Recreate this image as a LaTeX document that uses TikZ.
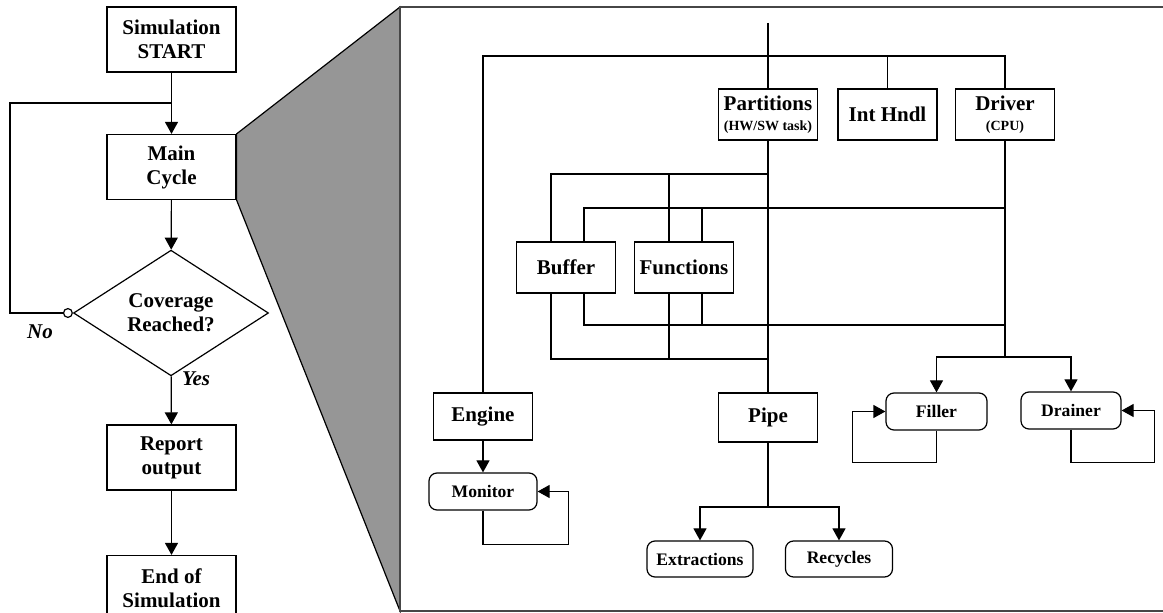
\documentclass[tikz,border=0pt]{standalone}
\usepackage{fontspec}
\setmainfont{Liberation Serif}
\usetikzlibrary{arrows.meta,shapes.geometric}

\definecolor{zoomgray}{RGB}{150,150,150}
\definecolor{framegray}{RGB}{70,70,70}

\tikzset{
  blk/.style={draw, line width=0.6pt, inner sep=0pt, align=center,
    font=\bfseries\fontsize{10.5}{12}\selectfont},
  bigblk/.style={blk, minimum width=64.5pt, minimum height=32.5pt},
  smblk/.style={blk, minimum width=49.5pt, minimum height=25.5pt},
  rblk/.style={blk, rounded corners=4pt, minimum height=18.5pt,
    font=\bfseries\fontsize{8.8}{10}\selectfont},
  arr/.style={-{Triangle[length=6pt,width=6.5pt]}},
  lbl/.style={font=\bfseries\itshape\fontsize{10.5}{12}\selectfont, inner sep=0pt}
}
\newcommand{\subtxt}[1]{{\fontsize{7}{8}\selectfont #1}}

\begin{document}
\begin{tikzpicture}[x=0.5pt, y=-0.5pt, line width=0.6pt]
    \useasboundingbox (0,0) rectangle (1163,613);

    % Flow of the simulation
    \node[bigblk] (start) at (171.5,39.5) {Simulation\\START};
    \node[bigblk] (main) at (171.5,167) {Main\\Cycle};
    \node[blk, shape=diamond, minimum width=97.5pt, minimum height=48pt] (cov) at (171,313) {Coverage\\Reached?};
    \node[bigblk] (rep) at (171.5,457.5) {Report\\output};
    \node[bigblk] (fin) at (171.5,588) {End of\\Simulation};

    \coordinate (lloop) at (0,103);
    \draw[arr] (start) -- (main);
    \draw[arr] (main) -- (cov);
    \draw[arr] (cov) -- (rep);
    \draw[arr] (rep) -- (fin);
    \draw[{Circle[open,length=5pt,width=5pt]}-] (cov.west) -- ++(-63,0) |- (lloop -| start.south);
    \node[lbl] (no) at (40,332) {No};
    \node[lbl] (yes) at (196,379) {Yes};

    % Zoom into the main cycle
    \coordinate (fnw) at (400,7);
    \coordinate (fsw) at (400,611);
    \filldraw[fill=zoomgray] (main.north east) -- (fnw) -- (fsw) -- (main.south east) -- cycle;
    \draw[framegray, line width=0.9pt] (1163,7) -- (fnw) -- (fsw) -- (1163,611);

    % Blocks of the main cycle
    \node[smblk] (part) at (768,114.5) {Partitions\\[-2pt]\subtxt{(HW/SW task)}};
    \node[smblk] (inth) at (887.5,114.5) {Int Hndl};
    \node[smblk] (drv) at (1005,114.5) {Driver\\[-2pt]\subtxt{(CPU)}};
    \node[smblk] (buf) at (566,267.5) {Buffer};
    \node[smblk] (fun) at (684,267.5) {Functions};
    \node[smblk, minimum height=23.5pt] (eng) at (483,416.5) {Engine};
    \node[smblk, minimum height=24.5pt] (pipe) at (768,417.5) {Pipe};
    \node[rblk, minimum width=54pt] (mon) at (483,491.5) {Monitor};
    \node[rblk, minimum width=50.5pt] (fil) at (936.5,411.5) {Filler};
    \node[rblk, minimum width=50pt] (drn) at (1071,410.5) {Drainer};
    \node[rblk, minimum width=53pt, minimum height=18pt] (ext) at (700,559) {Extractions};
    \node[rblk, minimum width=53.5pt, minimum height=18pt] (rec) at (839,559) {Recycles};

    % Bus levels
    \coordinate (feed) at (768,23);
    \coordinate (ltop) at (0,56);
    \coordinate (la) at (0,174);
    \coordinate (lb) at (0,208);
    \coordinate (lc) at (0,325);
    \coordinate (ld) at (0,359);
    \coordinate (ldrv) at (0,357);
    \coordinate (lpipe) at (0,507);

    % Top distribution
    \draw (feed) -- (part);
    \draw (eng.north) |- (ltop -| drv.north) -- (drv.north);
    \draw (ltop -| inth.north) -- (inth.north);
    \draw (part) -- (pipe);
    \draw (drv.south) -- (drv.south |- ldrv);

    % Buffer and Functions wiring
    \draw ([xshift=-7.5pt]buf.north) |- (la -| part.south);
    \draw ([xshift=-7.5pt]fun.north) -- ([xshift=-7.5pt]fun.north |- la);
    \draw ([xshift=9pt]buf.north) |- (lb -| drv.south);
    \draw ([xshift=9pt]fun.north) -- ([xshift=9pt]fun.north |- lb);
    \draw ([xshift=9pt]buf.south) |- (lc -| drv.south);
    \draw ([xshift=9pt]fun.south) -- ([xshift=9pt]fun.south |- lc);
    \draw ([xshift=-7.5pt]buf.south) |- (ld -| part.south);
    \draw ([xshift=-7.5pt]fun.south) -- ([xshift=-7.5pt]fun.south |- ld);

    % Driver outputs
    \draw[arr] (drv.south |- ldrv) -| (fil.north);
    \draw[arr] (drv.south |- ldrv) -| (drn.north);
    \draw[arr] (fil.south) -- ++(0,32) -| ([xshift=-16.5pt]fil.west) -- (fil.west);
    \draw[arr] (drn.south) -- ++(0,33) -| ([xshift=16.5pt]drn.east) -- (drn.east);

    % Engine and Monitor
    \draw[arr] (eng) -- (mon);
    \draw[arr] (mon.south) -- ++(0,34) -| ([xshift=15.5pt]mon.east) -- (mon.east);

    % Pipe outputs
    \draw (pipe.south) -- (pipe.south |- lpipe);
    \draw[arr] (pipe.south |- lpipe) -| (ext.north);
    \draw[arr] (pipe.south |- lpipe) -| (rec.north);
  \end{tikzpicture}
\end{document}
